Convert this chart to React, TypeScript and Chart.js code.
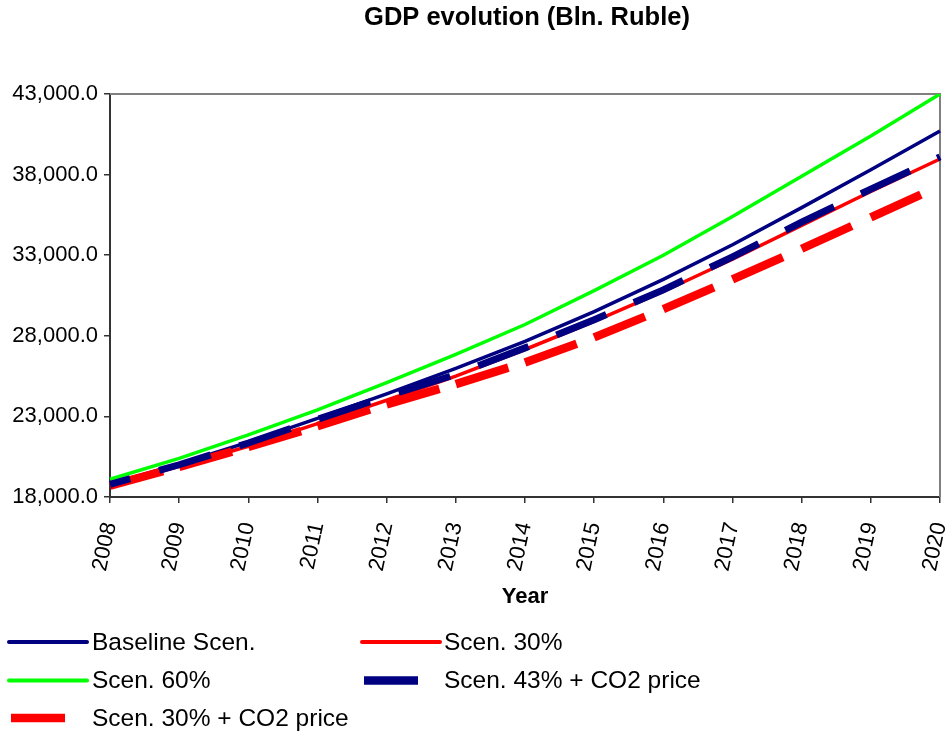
import React, { useEffect, useRef } from 'react';
import { Chart, registerables } from 'chart.js';

Chart.register(...registerables);

const years = ['2008', '2009', '2010', '2011', '2012', '2013', '2014', '2015', '2016', '2017', '2018', '2019', '2020'];
const baseline = [18800, 20050, 21400, 22880, 24400, 25980, 27650, 29500, 31500, 33650, 35950, 38300, 40700];
const scen30 = [18700, 19900, 21150, 22550, 24000, 25500, 27150, 28900, 30750, 32750, 34850, 36950, 38970];
const scen60 = [19100, 20400, 21850, 23400, 25100, 26850, 28700, 30800, 33000, 35400, 37900, 40400, 43000];
const scen43co2 = [18780, 20000, 21350, 22820, 24250, 25600, 27250, 29000, 30850, 32900, 35050, 37100, 39100];
const scen30co2 = [18700, 19870, 21100, 22400, 23750, 25000, 26350, 27900, 29650, 31500, 33400, 35350, 37300];
const seriesLabels = ['Baseline Scen.', 'Scen. 30%', 'Scen. 60%', 'Scen. 43% + CO2 price', 'Scen. 30% + CO2 price'];
const chartTitle = 'GDP evolution (Bln. Ruble)';
const xTitle = 'Year';

const FONT = '"Liberation Sans", Arial, Helvetica, sans-serif';

export default function App() {
  const ref = useRef<HTMLCanvasElement | null>(null);

  useEffect(() => {
    document.body.style.margin = '0';
    const canvas = ref.current;
    if (!canvas) return;

    const legendSlots = [
      { x: 9, y: 642, w: 78, tx: 92, dashed: false },
      { x: 362, y: 642, w: 78, tx: 444, dashed: false },
      { x: 9, y: 680.5, w: 78, tx: 92, dashed: false },
      { x: 364, y: 680.5, w: 54, tx: 444, dashed: true },
      { x: 11, y: 718, w: 54, tx: 92, dashed: true },
    ];

    const decor = {
      id: 'decor',
      beforeDatasetsDraw(chart: any) {
        const { ctx, chartArea: a } = chart;
        ctx.save();
        ctx.strokeStyle = '#808080';
        ctx.lineWidth = 2;
        ctx.beginPath();
        ctx.moveTo(a.left, a.top);
        ctx.lineTo(a.right, a.top);
        ctx.lineTo(a.right, a.bottom);
        ctx.stroke();
        ctx.restore();
      },
      afterDraw(chart: any) {
        const { ctx } = chart;
        ctx.save();
        ctx.fillStyle = '#000';
        ctx.font = `bold 25.5px ${FONT}`;
        ctx.textAlign = 'center';
        ctx.textBaseline = 'middle';
        ctx.fillText(chartTitle, 527, 18);

        chart.data.datasets.forEach((ds: any, i: number) => {
          const s = legendSlots[i];
          ctx.strokeStyle = ds.borderColor;
          if (s.dashed) {
            ctx.lineWidth = 8.5;
            ctx.lineCap = 'butt';
          } else {
            ctx.lineWidth = 4;
            ctx.lineCap = 'round';
          }
          ctx.beginPath();
          ctx.moveTo(s.x, s.y);
          ctx.lineTo(s.x + s.w, s.y);
          ctx.stroke();
          ctx.fillStyle = '#000';
          ctx.font = `24.5px ${FONT}`;
          ctx.textAlign = 'left';
          ctx.textBaseline = 'middle';
          ctx.fillText(ds.label, s.tx, s.y + 1);
        });
        ctx.restore();
      },
    };

    const chart = new Chart(canvas, {
      type: 'line',
      data: {
        labels: years,
        datasets: [
          { label: seriesLabels[0], data: baseline, borderColor: '#000080', borderWidth: 3.5, order: 2 },
          { label: seriesLabels[1], data: scen30, borderColor: '#FF0000', borderWidth: 3.5, order: 3 },
          { label: seriesLabels[2], data: scen60, borderColor: '#00FF00', borderWidth: 3.5, order: 4 },
          {
            label: seriesLabels[3], data: scen43co2, borderColor: '#000080', borderWidth: 7,
            borderDash: [54, 30], borderDashOffset: 33, borderCapStyle: 'butt', order: 0,
          },
          {
            label: seriesLabels[4], data: scen30co2, borderColor: '#FF0000', borderWidth: 8.5,
            borderDash: [55, 100], borderCapStyle: 'butt', order: 1,
            segment: { borderDashOffset: (c: any) => (c.p0DataIndex % 2 ? 0.001 : 0) },
          },
        ] as any,
      },
      options: {
        animation: false,
        responsive: false,
        devicePixelRatio: 1,
        elements: { point: { radius: 0, hoverRadius: 0 }, line: { tension: 0, fill: false } },
        layout: { padding: { top: 94, right: 6, bottom: 123, left: 0 } },
        plugins: { legend: { display: false }, title: { display: false }, tooltip: { enabled: false } },
        scales: {
          x: {
            type: 'category',
            offset: false,
            afterFit: (scale: any) => { scale.height = 115; scale.paddingLeft = 0; scale.paddingRight = 0; },
            border: { display: true, color: '#333', width: 2 },
            grid: { display: true, drawOnChartArea: false, drawTicks: true, tickLength: 6, color: '#333', lineWidth: 1.5 },
            ticks: { color: '#000', font: { family: FONT, size: 22 }, maxRotation: 78, minRotation: 78, autoSkip: false, padding: 17 },
            title: { display: true, text: xTitle, color: '#000', font: { family: FONT, size: 22, weight: 'bold' }, padding: { top: 2, bottom: 2 } },
          },
          y: {
            min: 18000,
            max: 43000,
            afterFit: (scale: any) => { scale.width = 110; scale.paddingTop = 0; scale.paddingBottom = 0; },
            border: { display: true, color: '#333', width: 2 },
            grid: { display: true, drawOnChartArea: false, drawTicks: true, tickLength: 6, color: '#333', lineWidth: 1.5 },
            ticks: {
              stepSize: 5000,
              color: '#000',
              padding: 6,
              font: { family: FONT, size: 22 },
              callback: (v: any) => Number(v).toLocaleString('en-US', { minimumFractionDigits: 1, maximumFractionDigits: 1 }),
            },
          },
        },
      } as any,
      plugins: [decor],
    });

    return () => chart.destroy();
  }, []);

  return (
    <div style={{ width: 946, height: 735 }}>
      <canvas ref={ref} width={946} height={735} style={{ display: 'block' }} />
    </div>
  );
}
